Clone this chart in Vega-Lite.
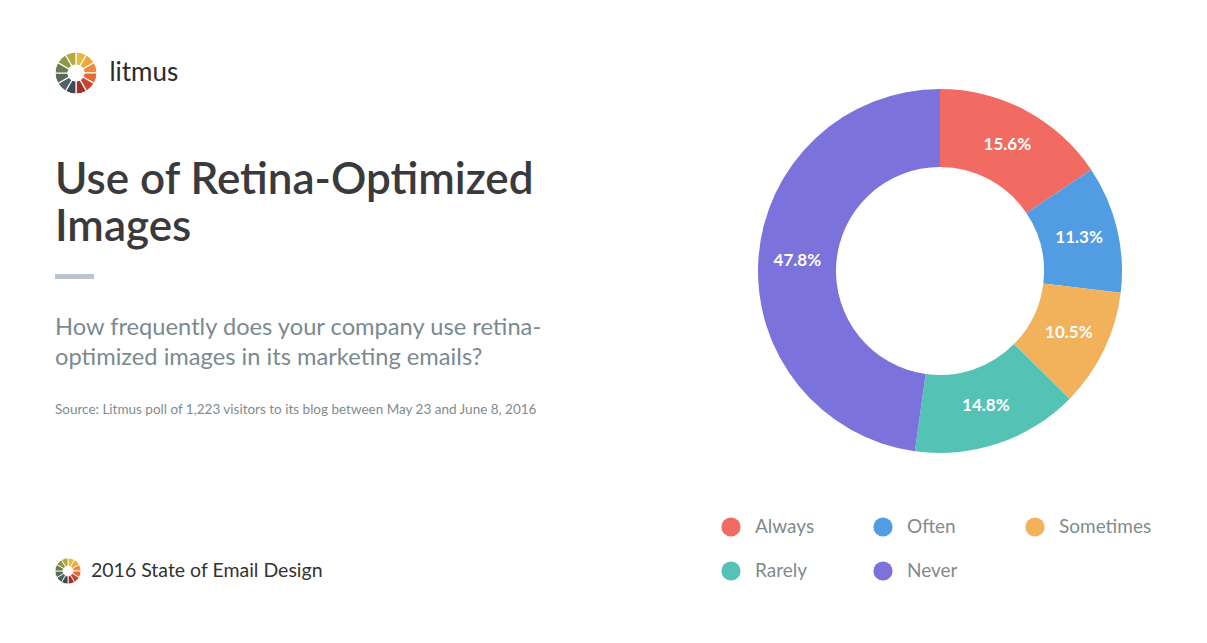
{
  "$schema": "https://vega.github.io/schema/vega-lite/v6.json",
  "background": "white",
  "padding": {"left": 52, "top": 49, "right": 0, "bottom": 0},
  "config": {"view": {"stroke": null}, "font": "Lato"},
  "spacing": 66,
  "resolve": {"scale": {"color": "independent", "theta": "independent"}, "legend": {"color": "independent"}},
  "hconcat": [
    {
      "spacing": 62,
      "resolve": {"scale": {"color": "independent", "theta": "independent"}, "legend": {"color": "independent"}},
      "vconcat": [
        {
          "width": 42,
          "height": 42,
          "data": {"values": [{"seg": 1, "v": 1}, {"seg": 2, "v": 1}, {"seg": 3, "v": 1}, {"seg": 4, "v": 1}, {"seg": 5, "v": 1}, {"seg": 6, "v": 1}, {"seg": 7, "v": 1}, {"seg": 8, "v": 1}, {"seg": 9, "v": 1}, {"seg": 10, "v": 1}, {"seg": 11, "v": 1}, {"seg": 12, "v": 1}]},
          "mark": {"type": "arc", "outerRadius": 21, "innerRadius": 8, "stroke": "white", "strokeWidth": 1.2},
          "encoding": {
            "theta": {"field": "v", "type": "quantitative", "stack": true},
            "order": {"field": "seg", "type": "quantitative"},
            "color": {"field": "seg", "type": "ordinal", "legend": null, "scale": {"range": ["#e8b93b", "#f1a83a", "#ef8a3b", "#e8683a", "#c9452f", "#a3302a", "#3e4a56", "#52606a", "#5a6856", "#6d7d4f", "#8d9a44", "#b2ab43"]}}
          },
          "title": {"text": "litmus", "orient": "right", "angle": 0, "align": "right", "baseline": "middle", "anchor": "middle", "fontSize": 26, "fontWeight": "normal", "color": "#2b2b2b", "offset": 10}
        },
        {
          "spacing": 36,
          "vconcat": [
            {
              "width": 39,
              "height": 5,
              "data": {"values": [{}]},
              "mark": {"type": "rect", "color": "#b9c4ce"},
              "encoding": {},
              "title": {"text": ["Use of Retina-Optimized", "Images"], "anchor": "start", "frame": "group", "fontSize": 44, "fontWeight": 600, "color": "#3a3a3d", "lineHeight": 47, "offset": 24}
            },
            {
              "width": 600,
              "height": 78,
              "data": {"values": [{}]},
              "mark": {"type": "rect", "opacity": 0},
              "encoding": {},
              "title": {"text": ["How frequently does your company use retina-", "optimized images in its marketing emails?"], "subtitle": "Source: Litmus poll of 1,223 visitors to its blog between May 23 and June 8, 2016", "anchor": "start", "frame": "group", "fontSize": 23.7, "fontWeight": "normal", "color": "#7b8a8f", "lineHeight": 30, "subtitleFontSize": 13.5, "subtitleColor": "#7f8c8d", "subtitlePadding": 33, "offset": 0}
            }
          ]
        },
        {
          "width": 26,
          "height": 26,
          "data": {"values": [{"seg": 1, "v": 1}, {"seg": 2, "v": 1}, {"seg": 3, "v": 1}, {"seg": 4, "v": 1}, {"seg": 5, "v": 1}, {"seg": 6, "v": 1}, {"seg": 7, "v": 1}, {"seg": 8, "v": 1}, {"seg": 9, "v": 1}, {"seg": 10, "v": 1}, {"seg": 11, "v": 1}, {"seg": 12, "v": 1}]},
          "mark": {"type": "arc", "outerRadius": 13, "innerRadius": 5, "stroke": "white", "strokeWidth": 0.8},
          "encoding": {
            "theta": {"field": "v", "type": "quantitative", "stack": true},
            "order": {"field": "seg", "type": "quantitative"},
            "color": {"field": "seg", "type": "ordinal", "legend": null, "scale": {"range": ["#e8b93b", "#f1a83a", "#ef8a3b", "#e8683a", "#c9452f", "#a3302a", "#3e4a56", "#52606a", "#5a6856", "#6d7d4f", "#8d9a44", "#b2ab43"]}}
          },
          "title": {"text": "2016 State of Email Design", "orient": "right", "angle": 0, "align": "right", "baseline": "middle", "anchor": "middle", "fontSize": 19.5, "fontWeight": "normal", "color": "#333333", "offset": 8}
        }
      ]
    },
    {
      "width": 438,
      "height": 438,
      "data": {"values": [
        {"answer": "Always", "share": 0.156, "rank": 1},
        {"answer": "Often", "share": 0.113, "rank": 2},
        {"answer": "Sometimes", "share": 0.105, "rank": 3},
        {"answer": "Rarely", "share": 0.148, "rank": 4},
        {"answer": "Never", "share": 0.478, "rank": 5}
      ]},
      "encoding": {
        "theta": {"field": "share", "type": "quantitative", "stack": true},
        "order": {"field": "rank", "type": "quantitative"},
        "color": {
          "field": "answer",
          "type": "nominal",
          "scale": {"domain": ["Always", "Often", "Sometimes", "Rarely", "Never"], "range": ["#f26b63", "#529ce3", "#f2b25b", "#55c2b6", "#7b72dc"]},
          "legend": {"orient": "bottom", "direction": "horizontal", "columns": 3, "title": null, "symbolType": "circle", "symbolSize": 370, "symbolStrokeWidth": 0, "symbolOpacity": 1, "labelFontSize": 19, "labelColor": "#7f8c8d", "labelFont": "Lato", "labelOffset": 14, "columnPadding": 25, "rowPadding": 24, "gridAlign": "all", "offset": 27, "padding": 0}
        }
      },
      "layer": [
        {"mark": {"type": "arc", "outerRadius": 182, "innerRadius": 104}},
        {"mark": {"type": "text", "radius": 143, "fill": "white", "fontSize": 17, "fontWeight": "bold", "font": "Lato"}, "encoding": {"text": {"field": "share", "type": "quantitative", "format": ".1%"}}}
      ]
    }
  ]
}
